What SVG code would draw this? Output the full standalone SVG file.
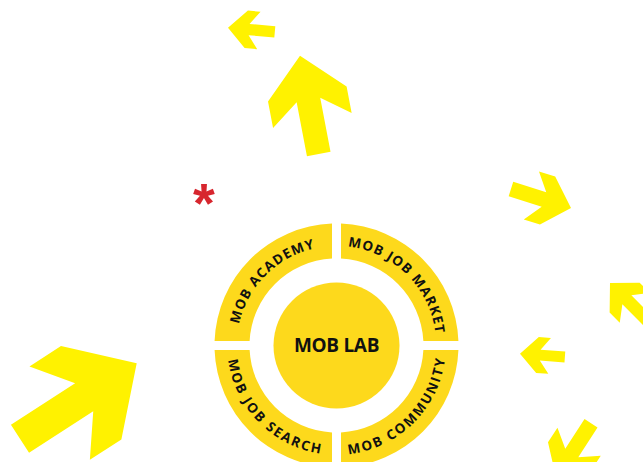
<svg xmlns="http://www.w3.org/2000/svg" width="643" height="462" viewBox="0 0 643 462">
<style>
.arrow{fill:#FFF200}
.seg{fill:#FDD91C}
.core{fill:#FDD91C}
.ring-label{font-family:"Open Sans","Liberation Sans",sans-serif;font-weight:700;font-size:13.5px;fill:#111}
.top{letter-spacing:1.05px}
.bottom{letter-spacing:1.9px}
.center-label{font-family:"Open Sans","Liberation Sans",sans-serif;font-weight:700;font-size:19px;letter-spacing:-0.3px;fill:#111}
.star{font-family:"Liberation Sans",sans-serif;font-weight:700;font-size:56px;fill:#D7262E}
</style>
<defs>
<polygon id="arrow-shape" points="0,0 40,39 40,66 12,45 12,100 -12,100 -12,45 -40,66 -40,39"/>
<path id="p-academy" d="M 236.8 345.5 A 99.7 99.7 0 0 1 336.5 245.8"/>
<path id="p-market" d="M 336.5 245.8 A 99.7 99.7 0 0 1 436.2 345.5"/>
<path id="p-search" d="M 227.2 345.5 A 109.3 109.3 0 0 0 336.5 454.8"/>
<path id="p-community" d="M 336.5 454.8 A 109.3 109.3 0 0 0 445.8 345.5"/>
</defs>
<rect width="643" height="462" fill="#FFFFFF"/>
<g id="arrows">
<use href="#arrow-shape" class="arrow" transform="translate(300 55.7) rotate(-10.8)"/>
<use href="#arrow-shape" class="arrow" transform="translate(228 27.7) rotate(-84.9) scale(0.47)"/>
<use href="#arrow-shape" class="arrow" transform="translate(571 208) rotate(107.6) scale(0.63)"/>
<use href="#arrow-shape" class="arrow" transform="translate(610 283) rotate(-45) scale(0.53)"/>
<use href="#arrow-shape" class="arrow" transform="translate(520 353.7) rotate(-85.8) scale(0.45)"/>
<use href="#arrow-shape" class="arrow" transform="translate(556 477.4) rotate(-147.1) scale(0.645)"/>
<use href="#arrow-shape" class="arrow" transform="translate(136.7 363.3) rotate(57.1) scale(1.39)"/>
</g>
<g id="asterisk">
<text class="star" x="204" y="222" text-anchor="middle">*</text>
</g>
<g id="mob-academy">
<path class="seg" d="M 214.58 341 A 122 122 0 0 1 332 223.58 L 332 258.62 A 87 87 0 0 0 249.62 341 Z"/>
<text class="ring-label top"><textPath href="#p-academy" startOffset="50%" text-anchor="middle">MOB ACADEMY</textPath></text>
</g>
<g id="mob-job-market">
<path class="seg" d="M 341 223.58 A 122 122 0 0 1 458.42 341 L 423.38 341 A 87 87 0 0 0 341 258.62 Z"/>
<text class="ring-label top"><textPath href="#p-market" startOffset="50%" text-anchor="middle">MOB JOB MARKET</textPath></text>
</g>
<g id="mob-job-search">
<path class="seg" d="M 332 467.42 A 122 122 0 0 1 214.58 350 L 249.62 350 A 87 87 0 0 0 332 432.38 Z"/>
<text class="ring-label bottom"><textPath href="#p-search" startOffset="50%" text-anchor="middle">MOB JOB SEARCH</textPath></text>
</g>
<g id="mob-community">
<path class="seg" d="M 458.42 350 A 122 122 0 0 1 341 467.42 L 341 432.38 A 87 87 0 0 0 423.38 350 Z"/>
<text class="ring-label bottom"><textPath href="#p-community" startOffset="50%" text-anchor="middle">MOB COMMUNITY</textPath></text>
</g>
<g id="mob-lab">
<circle class="core" cx="336.5" cy="345.5" r="63"/>
<text class="center-label" x="336.5" y="352" text-anchor="middle">MOB LAB</text>
</g>
</svg>
